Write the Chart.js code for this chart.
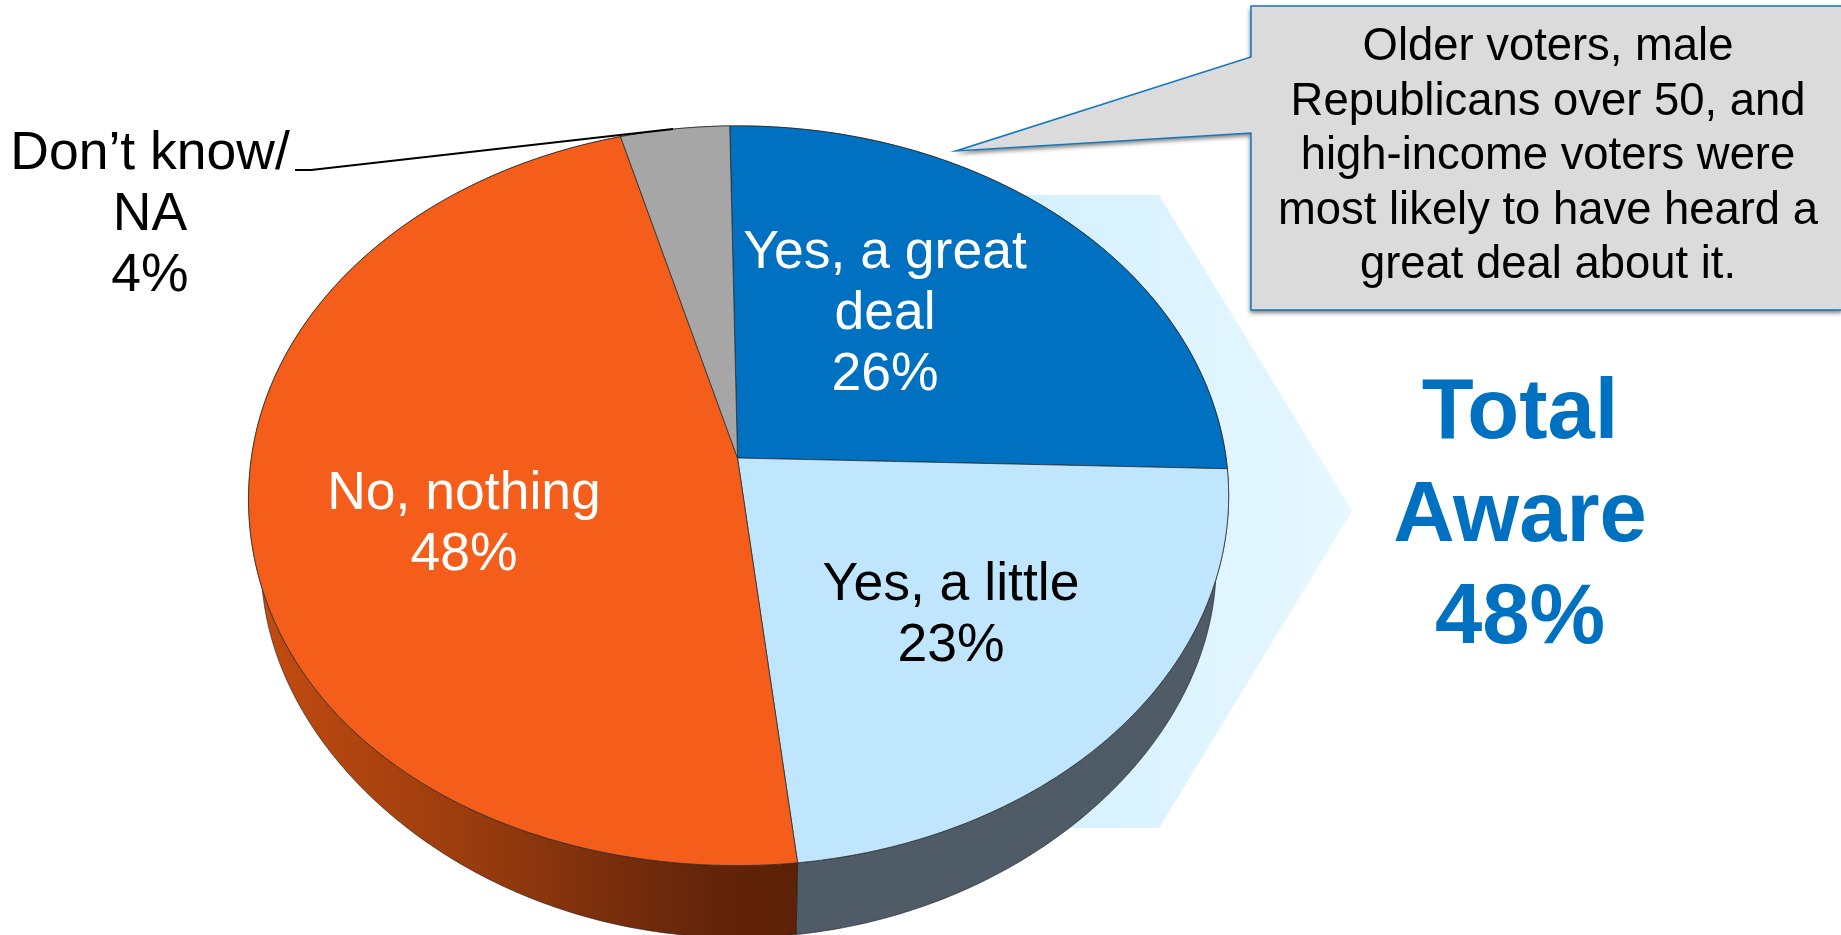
<!DOCTYPE html>
<html>
<head>
<meta charset="utf-8">
<title>Awareness pie</title>
<style>
html,body{margin:0;padding:0;background:#fff;overflow:hidden}
canvas{display:block}
</style>
<script src="https://cdn.jsdelivr.net/npm/chart.js@4"></script>
</head>
<body>
<canvas id="ch" width="1841" height="935"></canvas>
<script>
// values (they add to 101 in the original too)
const categories=['Yes, a great deal','Yes, a little','No, nothing','Don’t know/NA'];
const values=[26,23,48,4];
const labelLines=[['Yes, a great','deal'],['Yes, a little'],['No, nothing'],['Don’t know/','NA']];
const calloutLines=['Older voters, male','Republicans over 50, and','high-income voters were','most likely to have heard a','great deal about it.'];
const totalLines=['Total','Aware','48%'];

const colors=['#0070C0','#BFE6FD','#F55D1A','#A6A6A6'];
const FONT='"Liberation Sans", Arial, sans-serif';

// tilted disc: circle pushed through a small perspective so the hub sits above the ellipse centre
const P={cx:737.5,cy:458,a:488.6,b:366,k:0.102,depth:72,wallScale:0.975};
function proj(t,wall){
  const u=Math.cos(t),v=Math.sin(t),d=1-P.k*v;
  // small fudge on the edge, the original is not a clean ellipse
  let r=1;
  if(u<0) r-=0.005*u*u;
  if(v>0){
    const s=Math.sin(2*t);
    if(u<0&&!wall) r+=0.01*s*s;
    if(wall) r-=0.012*s*s;
  }
  const x=P.a*u*r/d,y=P.b*v*r/d;
  return wall?[P.cx+x*P.wallScale,P.cy+y+P.depth]:[P.cx+x,P.cy+y];
}
function arcPath(c,from,to,wall){
  const n=Math.max(8,Math.ceil(Math.abs(to-from)*90));
  for(let i=0;i<=n;i++){
    const p=proj(from+(to-from)*i/n,wall);
    c.lineTo(p[0],p[1]);
  }
}
function wallFill(c,i){
  if(i===2){
    const g=c.createLinearGradient(249,0,797,0);
    g.addColorStop(0,'#C44C10');g.addColorStop(.4,'#9A3C0E');g.addColorStop(.85,'#62240A');g.addColorStop(1,'#5C2106');
    return g;
  }
  return i===1?'#4F5B66':'#3a4a5a';
}
function drawText(c,lines,x,y,pitch,font,color){
  c.font=font;c.fillStyle=color;c.textAlign='center';c.textBaseline='alphabetic';
  lines.forEach((l,i)=>c.fillText(l,x,y+i*pitch));
}

const pie3d={
  id:'pie3d',
  beforeDatasetsDraw(chart){
    const c=chart.ctx,arcs=chart.getDatasetMeta(0).data;
    // chevron behind the pie
    c.save();
    const g=c.createLinearGradient(1000,0,1352,0);
    g.addColorStop(0,'#D3F0FF');g.addColorStop(1,'#E6F7FF');
    c.fillStyle=g;
    c.beginPath();c.moveTo(950,195);c.lineTo(1159,195);c.lineTo(1352,511);c.lineTo(1159,828);c.lineTo(950,828);c.closePath();c.fill();
    // side walls
    arcs.forEach((el,i)=>{
      const s=el.startAngle,e=el.endAngle;
      c.beginPath();
      arcPath(c,s,e,false);arcPath(c,e,s,true);
      c.closePath();
      c.fillStyle=wallFill(c,i);c.fill();
      c.strokeStyle='rgba(30,30,30,.6)';c.lineWidth=1;c.stroke();
    });
    // top face
    arcs.forEach(el=>{
      c.beginPath();
      c.moveTo(P.cx,P.cy);
      arcPath(c,el.startAngle,el.endAngle,false);
      c.closePath();
      c.fillStyle=el.options.backgroundColor;c.fill();
      c.strokeStyle='rgba(40,40,40,.75)';c.lineWidth=1;c.stroke();
    });
    c.restore();
    return false;
  },
  afterDraw(chart){
    const c=chart.ctx;
    c.save();
    // callout
    c.beginPath();
    c.moveTo(1251,6);c.lineTo(1843,6);c.lineTo(1843,310);c.lineTo(1251,310);c.lineTo(1251,133);c.lineTo(956,151);c.lineTo(1251,57);c.closePath();
    c.shadowColor='rgba(0,0,0,.5)';c.shadowBlur=4;c.shadowOffsetX=-1;c.shadowOffsetY=3;
    c.fillStyle='#DBDBDB';c.fill();
    c.shadowColor='transparent';
    c.strokeStyle='#1077C0';c.lineWidth=1.5;c.stroke();
    drawText(c,calloutLines,1548,60,54.5,'45.4px '+FONT,'#000');
    // leader for the small slice
    c.beginPath();c.moveTo(295,170);c.lineTo(311,170);c.lineTo(673,129);
    c.strokeStyle='#000';c.lineWidth=2;c.stroke();
    // slice labels
    const pos=[[885,268,'#fff'],[951,600,'#000'],[464,509,'#fff'],[150,169,'#000']];
    labelLines.forEach((l,i)=>{
      drawText(c,l.concat(values[i]+'%'),pos[i][0],pos[i][1],61,'53.5px '+FONT,pos[i][2]);
    });
    drawText(c,totalLines,1520,438,102.5,'bold 85px '+FONT,'#0070C0');
    c.restore();
  }
};

new Chart(document.getElementById('ch'),{
  type:'pie',
  data:{labels:categories,datasets:[{data:values,backgroundColor:colors,borderWidth:0}]},
  options:{
    responsive:false,animation:false,rotation:-1,
    plugins:{legend:{display:false},tooltip:{enabled:false}}
  },
  plugins:[pie3d]
});
</script>
</body>
</html>
